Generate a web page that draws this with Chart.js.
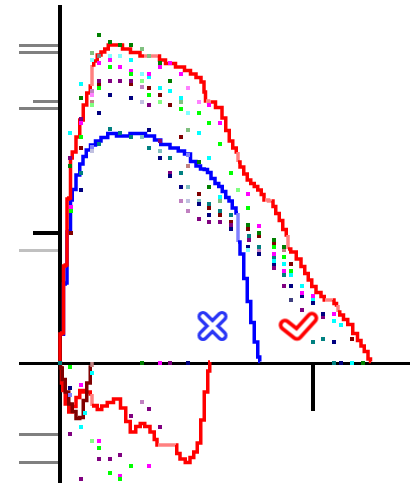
<!DOCTYPE html>
<html>
<head>
<meta charset="utf-8">
<script src="https://cdn.jsdelivr.net/npm/chart.js@4.4.1/dist/chart.umd.min.js"></script>
<style>
html, body { margin: 0; padding: 0; background: #fff; }
#wrap { width: 410px; height: 483px; }
</style>
</head>
<body>
<div id="wrap"><canvas id="c" width="410" height="483"></canvas></div>
<script>
// main curves, [x, y]
const outerCurve = [[0,0],[0,29],[3.5,30],[3.5,97],[7,98],[7,164],[10.5,165],[10.5,205],[14,211],[18,226],
  [21.5,243],[25,258],[28.5,270],[32,277],[32,298],[35.5,302],[39,308],[43,311],[46.5,314],[50,318],
  [60,318],[65,314],[76,310.5],[84,307],[98,307],[101,303],[110,299.5],[121,296],[128,292.5],[133,289],
  [139,285.5],[143,281],[145,271],[146,262],[151,261],[160,255.5],[164,245],[167.5,232.5],[171,222],[174.5,215],
  [178,211],[178,201],[182,196],[185.5,189],[189,183],[192.5,179.5],[196,176.5],[199.5,173],[203,168.5],[205,163],
  [212,162],[214,156.5],[217.5,149.5],[221,142.5],[224.5,133.5],[228,128],[228,114],[233.5,111],[239,104],[243,96.5],
  [246.5,89.5],[250,83],[253.5,76.5],[258.5,70.5],[263.5,66.5],[265,63],[273,63],[275,59.5],[278,58],[278,51],
  [281.5,48],[285.5,43.5],[290,38.5],[295.5,29.5],[299.5,22.5],[302.5,17],[306,11.5],[310,4],[311,1.5]];
const outerPale = [13, 23, 33, 40, 49, 55, 65, 68];

const innerCurve = [[3.5,27],[3.5,79],[7,80],[7,131],[10.5,132],[10.5,163],[14,173.5],[18,188],[21.5,199],[24.5,206.5],
  [28,213],[33,218],[38,222],[44,225.5],[51.5,229.5],[61.5,227],[78.5,229.5],[92.5,227],[96.5,223],[105,218.5],
  [115,215],[121.5,212],[127.5,209],[133.5,201.5],[138.5,197],[142.5,194],[146,193.5],[149,190.5],[153,184.5],[157,179.5],
  [160.5,176.5],[164,171.5],[167.5,165.5],[170.5,162],[174,155],[178,150],[178,121],[182,109],[185.5,84.5],[189,61.5],
  [192.5,40.5],[196,21],[199.5,6],[200,1.5]];
const innerPale = [35];

const lowerCurve = [[1,-5],[2,-20],[3.5,-27.5],[7,-41],[10.5,-49],[14,-43.5],[18,-34.5],[21.5,-27.5],[25,-29],[28.5,-29],
  [32,-31],[32,-43],[35.5,-42.5],[39,-46.5],[44.5,-43],[50,-39.5],[57,-36],[64,-45],[67.5,-58.5],[73,-69],
  [78.5,-63.5],[82,-60.5],[87.5,-63.5],[92.5,-69],[96,-76.5],[98,-82],[116,-82],[117.5,-90.5],[122.5,-96],[128,-99.5],
  [132,-94.5],[135.5,-89],[139,-80],[142.5,-57],[146,-29],[149.5,-8],[150,1]];
const lowerPale = [10, 25];

const lowerDark = [[0,0],[1,-5],[3.5,-16.5],[7,-29],[10.5,-41],[14,-48.5],[18,-55.5],[21.5,-54.5],[25,-37.5],[28.5,-20],
  [32,-4],[32,1]];
const lowerDarkPale = [10];

// scattered samples, [x, y]
const limeDots = [[50,296],[71,289],[39,275],[89,268],[121,254],[139,250],[21,226],[11,152],[149,240],[160,219],[171,190],[188,155],[214,116],[224,106],[231,92],[10,-4],[39,-85],[71,-103],[50,-110],[60,-116]];
const magentaDots = [[39,300],[50,303],[60,296],[100,296],[110,300],[71,292],[89,289],[121,289],[21,240],[11,156],[149,258],[160,240],[188,169],[199,137],[214,109],[224,92],[242,70],[253,67],[274,49],[21,-22],[39,-78],[89,-103],[60,-113],[100,0]];
const cyanDots = [[71,303],[89,286],[100,275],[110,272],[121,265],[21,279],[10,230],[139,230],[149,205],[160,166],[214,102],[224,99],[231,88],[242,77],[253,64],[274,42],[281,38],[292,0],[32,-10],[25,-50],[21,-64]];
const paleCyanDots = [[50,307],[60,307],[32,303],[82,289],[128,250],[188,113]];
const navyDots = [[50,268],[71,265],[39,250],[21,173],[89,233],[100,205],[110,187],[121,176],[139,159],[149,148],[171,134],[188,116],[199,109],[214,99],[231,77],[242,67],[253,60],[263,49],[274,21],[281,0],[128,0],[10,-25]];
const slateDots = [[231,63]];
const purpleDots = [[39,282],[50,282],[60,282],[71,282],[89,258],[21,244],[10,205],[100,222],[110,190],[139,144],[149,141],[160,141],[171,138],[189,123],[214,95],[224,77],[242,53],[263,46],[110,0],[10,-71],[39,-96],[50,-96],[60,-92],[21,-116],[89,-46],[71,-53],[100,-64]];
const tealDots = [[50,234],[60,230],[71,226],[39,219],[21,190],[89,215],[110,205],[121,190],[149,159],[160,152],[171,148],[189,127],[199,116],[214,106],[224,88],[242,32],[263,24],[253,21],[274,0],[0,0]];
const paleTealDots = [[82,226],[100,212],[128,176],[139,162]];
const greenDots = [[39,328],[50,321],[60,318],[71,318],[100,300],[110,282],[21,265],[10,197],[139,201],[149,176],[188,138],[199,130],[214,123],[224,116],[82,0],[303,0]];
const maroonDots = [[39,279],[71,279],[89,275],[100,268],[110,258],[121,226],[21,215],[11,130],[139,169],[149,155],[160,148],[171,141],[188,134],[199,127],[214,120],[231,99],[292,24]];
const paleGreenDots = [[82,282],[32,258],[100,261],[178,173],[32,-78]];
const paleMagentaDots = [[128,275],[139,261],[32,268]];
const orchidDots = [[82,276],[32,272],[121,162],[128,152],[199,113],[82,-39]];
const lavenderDots = [[82,261],[128,162],[32,212]];
const periwinkleDots = [[128,208],[32,216],[10,-32]];
const sageDots = [[82,314],[32,310],[89,307],[121,261],[128,233],[160,162]];
const greyDots = [[39,307]];
const rosyDots = [[128,197],[224,113],[32,261]];

// axes
const yTicks = [317.5, 310.5, 261.5, 254.5, 130, 112.5, -71.5, -99.5];
const xTicks = [253];
const markers = [[152.5, 37], [238.5, 36.5]];

// styles
const yTickColors = ['#808080','#808080','#808080','#808080','#000000','#c0c0c0','#808080','#808080'];
const yTickLong = [true, true, false, true, false, true, true, true];

const dotSets = [
  [limeDots, '#00ff00'], [magentaDots, '#ff00ff'], [cyanDots, '#00ffff'], [paleCyanDots, '#80ffff'],
  [navyDots, '#000080'], [slateDots, '#404080'], [purpleDots, '#800080'], [tealDots, '#008080'],
  [paleTealDots, '#80c0c0'], [greenDots, '#008000'], [maroonDots, '#800000'], [paleGreenDots, '#80ff80'],
  [paleMagentaDots, '#ff80ff'], [orchidDots, '#c080c0'], [lavenderDots, '#c0c0e0'], [periwinkleDots, '#8080ff'],
  [sageDots, '#80c080'], [greyDots, '#808080'], [rosyDots, '#c08080']
];

const toXY = arr => arr.map(p => ({x: p[0], y: p[1]}));

function makeCross() {
  const c = document.createElement('canvas');
  c.width = 36; c.height = 36;
  const g = c.getContext('2d');
  g.lineCap = 'round';
  const a = 9.5;
  const path = () => { g.beginPath(); g.moveTo(18-a,18-a); g.lineTo(18+a,18+a); g.moveTo(18+a,18-a); g.lineTo(18-a,18+a); };
  path(); g.strokeStyle = '#2a36f6'; g.lineWidth = 11; g.stroke();
  path(); g.strokeStyle = '#ffffff'; g.lineWidth = 4.5; g.stroke();
  return c;
}
function makeCheck() {
  const c = document.createElement('canvas');
  c.width = 44; c.height = 36;
  const g = c.getContext('2d');
  g.lineCap = 'round'; g.lineJoin = 'round';
  const path = () => { g.beginPath(); g.moveTo(22-13.5,18-1.5); g.lineTo(22-1.5,18+8); g.lineTo(22+13.5,18-8.5); };
  path(); g.strokeStyle = '#ff0000'; g.lineWidth = 12.5; g.stroke();
  path(); g.strokeStyle = '#ffffff'; g.lineWidth = 5; g.stroke();
  return c;
}

function lineSet(points, pale, color, paleColor, width, order) {
  return {
    data: toXY(points), showLine: true, pointRadius: 0, borderWidth: width, fill: false, tension: 0,
    stepped: 'middle', borderColor: color, order: order,
    segment: { borderColor: ctx => pale.includes(ctx.p0DataIndex) ? paleColor : color }
  };
}

const axesPlugin = {
  id: 'axes',
  beforeDatasetsDraw(chart) {
    const {ctx, scales: {x, y}} = chart;
    const x0 = x.getPixelForValue(0), y0 = y.getPixelForValue(0);
    const top = y.getPixelForValue(358);
    ctx.save();
    ctx.fillStyle = '#000';
    ctx.fillRect(x0 - 2, top, 4, y.bottom - top);
    const left = x.getPixelForValue(-41);
    ctx.fillRect(left, y0 - 1, x.right - left, 3);
    yTicks.forEach((v, i) => {
      const py = y.getPixelForValue(v);
      const len = yTickLong[i] ? 39 : 25;
      const h = yTickColors[i] === '#000000' ? 4 : 3;
      ctx.fillStyle = yTickColors[i];
      ctx.fillRect(x0 - 2 - len, py - h / 2, len, h);
    });
    ctx.fillStyle = '#000';
    xTicks.forEach(v => {
      const px = x.getPixelForValue(v);
      ctx.fillRect(px - 2, y0 + 2, 4, 46);
    });
    ctx.restore();
  }
};

const datasets = [];
datasets.push({ data: toXY(markers), pointStyle: [makeCross(), makeCheck()], pointRadius: 10, order: 0 });
dotSets.forEach(([pts, col]) => {
  datasets.push({ data: toXY(pts), pointStyle: 'rect', pointRadius: 2.83, borderWidth: 0,
    backgroundColor: col, borderColor: col, order: 1 });
});
datasets.push(lineSet(lowerDark, lowerDarkPale, '#800000', '#c08080', 3.5, 2));
datasets.push(lineSet(outerCurve, outerPale, '#ff0000', '#ff8080', 3.5, 3));
datasets.push(lineSet(lowerCurve, lowerPale, '#ff0000', '#ff8080', 3.5, 3));
datasets.push(lineSet(innerCurve, innerPale, '#0000ff', '#8080ff', 3.5, 4));

new Chart(document.getElementById('c'), {
  type: 'scatter',
  data: { datasets },
  options: {
    responsive: false,
    animation: false,
    devicePixelRatio: 1,
    events: [],
    layout: { padding: 0, autoPadding: false },
    plugins: { legend: { display: false }, tooltip: { enabled: false } },
    scales: {
      x: { type: 'linear', min: -60, max: 350, display: false },
      y: { type: 'linear', min: -120, max: 363, display: false }
    }
  },
  plugins: [axesPlugin]
});
</script>
</body>
</html>
